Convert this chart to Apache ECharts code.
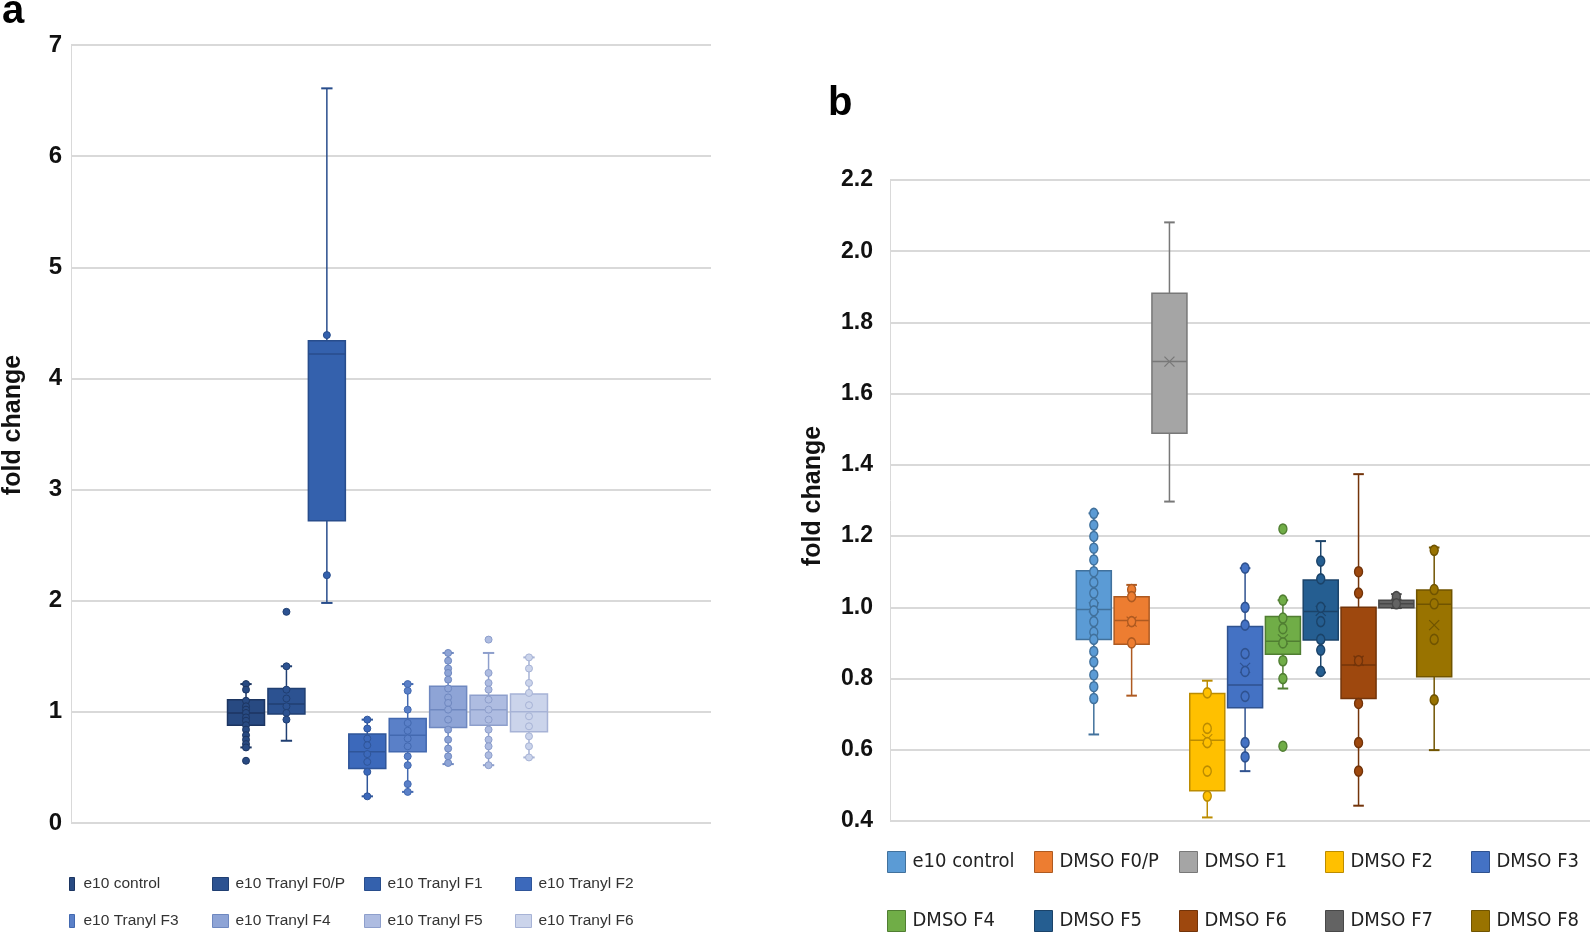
<!DOCTYPE html>
<html><head><meta charset="utf-8">
<script src="https://cdn.jsdelivr.net/npm/echarts@6/dist/echarts.min.js"></script>
<style>html,body{margin:0;padding:0;background:#fff}#c{width:1593px;height:946px}</style>
</head><body><div id="c"></div>
<script>
// ---------- Panel a data ----------
const groupsA = ['e10 control','e10 Tranyl F0/P','e10 Tranyl F1','e10 Tranyl F2','e10 Tranyl F3','e10 Tranyl F4','e10 Tranyl F5','e10 Tranyl F6'];
const minA = [0.68, 0.74, 1.98, 0.24, 0.28, 0.53, 0.52, 0.59];
const q1A  = [0.88, 0.98, 2.72, 0.49, 0.64, 0.86, 0.88, 0.82];
const medA = [0.99, 1.07, 4.22, 0.64, 0.79, 1.02, 1.02, 1.00];
const q3A  = [1.11, 1.21, 4.34, 0.80, 0.94, 1.23, 1.15, 1.16];
const maxA = [1.25, 1.41, 6.61, 0.93, 1.25, 1.53, 1.53, 1.49];
const pointsA = [
  [1.25,1.2,1.1,1.05,1.02,0.99,0.95,0.92,0.88,0.84,0.79,0.75,0.71,0.68,0.56],
  [1.9,1.41,1.2,1.12,1.05,0.99,0.93],
  [4.39,2.23],
  [0.93,0.85,0.76,0.7,0.62,0.55,0.46,0.24],
  [1.25,1.19,1.02,0.9,0.83,0.76,0.69,0.6,0.52,0.35,0.28],
  [1.53,1.46,1.39,1.35,1.29,1.21,1.13,1.08,1.02,0.93,0.84,0.75,0.67,0.6,0.54],
  [1.65,1.35,1.26,1.2,1.11,1.02,0.93,0.84,0.75,0.69,0.61,0.52],
  [1.49,1.39,1.26,1.17,1.06,0.96,0.87,0.78,0.69,0.59]
];
const yMinA = 0, yMaxA = 7, yStepA = 1;

// ---------- Panel b data ----------
const groupsB = ['e10 control','DMSO F0/P','DMSO F1','DMSO F2','DMSO F3','DMSO F4','DMSO F5','DMSO F6','DMSO F7','DMSO F8'];
const minB  = [0.643, 0.752, 1.297, 0.41, 0.54, 0.772, 0.817, 0.443, 0.998, 0.599];
const q1B   = [0.91, 0.896, 1.489, 0.485, 0.718, 0.868, 0.908, 0.744, 0.999, 0.805];
const medB  = [0.994, 0.963, 1.69, 0.627, 0.782, 0.905, 0.988, 0.838, 1.01, 1.009];
const q3B   = [1.103, 1.03, 1.882, 0.758, 0.946, 0.974, 1.077, 1.0, 1.02, 1.049];
const maxB  = [1.264, 1.063, 2.081, 0.794, 1.11, 1.02, 1.186, 1.374, 1.037, 1.168];
const meanB = [1.0, 0.96, 1.69, 0.63, 0.83, 0.91, 0.99, 0.85, 1.01, 0.95];
const pointsB = [
  [1.264,1.231,1.199,1.166,1.133,1.1,1.07,1.04,1.01,0.99,0.96,0.93,0.91,0.876,0.847,0.81,0.777,0.744],
  [1.05,1.03,0.96,0.9],
  [],
  [0.76,0.66,0.62,0.54,0.47],
  [1.11,1.0,0.95,0.87,0.82,0.75,0.62,0.58],
  [1.22,1.02,0.97,0.94,0.9,0.85,0.8,0.61],
  [1.13,1.08,1.0,0.96,0.91,0.88,0.82],
  [1.1,1.04,0.85,0.73,0.62,0.54],
  [1.03,1.01],
  [1.16,1.05,1.01,0.91,0.74]
];
const yMinB = 0.4, yMaxB = 2.2, yStepB = 0.2;

// ---------- styles ----------
const fillsA   = ['#284a82','#2c5291','#3461ad','#3c69bb','#5a80c8','#8ea4d6','#aebce1','#cbd4eb'];
const strokesA = ['#1c3561','#203f72','#284d8c','#2f5599','#4369b0','#6f88c0','#8e9fcc','#a7b3d6'];
const fillsB   = ['#5b9bd5','#ed7d31','#a5a5a5','#ffc000','#4472c4','#70ad47','#255e91','#9e480e','#636363','#997300'];
const strokesB = ['#41719c','#ae5a21','#787878','#bc8c00','#2f528f','#507e32','#1b4369','#73340a','#484848','#705400'];

const FONT = "'Liberation Sans', Arial, sans-serif";
const NARROW = "'Liberation Sans Narrow', 'DejaVu Sans Condensed', sans-serif";

function boxRenderer(fills, strokes, boxRatio, capRatio, showMean) {
  return function (params, api) {
    const i = api.value(0);
    const band = api.size([1, 0])[0];
    const bw = band * boxRatio, cw = band * capRatio;
    const x = api.coord([i, api.value(3)])[0];
    const y = k => api.coord([i, api.value(k)])[1];
    const yMin = y(1), yQ1 = y(2), yMed = y(3), yQ3 = y(4), yMax = y(5);
    const f = fills[i], s = strokes[i];
    const ch = [
      {type:'line', shape:{x1:x,y1:yMax,x2:x,y2:yMin}, style:{stroke:s,lineWidth:1.5}},
      {type:'line', shape:{x1:x-cw/2,y1:yMax,x2:x+cw/2,y2:yMax}, style:{stroke:s,lineWidth:2}},
      {type:'line', shape:{x1:x-cw/2,y1:yMin,x2:x+cw/2,y2:yMin}, style:{stroke:s,lineWidth:2}},
      {type:'rect', shape:{x:x-bw/2,y:yQ3,width:bw,height:yQ1-yQ3}, style:{fill:f,stroke:s,lineWidth:1.5}},
      {type:'line', shape:{x1:x-bw/2,y1:yMed,x2:x+bw/2,y2:yMed}, style:{stroke:s,lineWidth:1.5}}
    ];
    if (showMean) {
      const ym = y(6), m = 5;
      ch.push({type:'line', shape:{x1:x-m,y1:ym-m,x2:x+m,y2:ym+m}, style:{stroke:s,lineWidth:1.2}});
      ch.push({type:'line', shape:{x1:x-m,y1:ym+m,x2:x+m,y2:ym-m}, style:{stroke:s,lineWidth:1.2}});
    }
    return {type:'group', children:ch};
  };
}

function plotYAxis(grid, min, max, step, fontSize, margin, nameGap, shift, fmt) {
  return {
    gridIndex: grid, type:'value', min:min, max:max, interval:step,
    axisLine:{show:true, lineStyle:{color:'#d9d9d9', width:1}},
    axisTick:{show:false},
    splitLine:{show:true, lineStyle:{color:'#d9d9d9', width:2}},
    axisLabel:{fontSize:fontSize, fontWeight:'bold', fontFamily:FONT, color:'#111', margin:margin, formatter:fmt},
    name:'fold change', nameLocation:'middle', nameRotate:90, nameGap:nameGap,
    nameTextStyle:{fontSize:25, fontWeight:'bold', fontFamily:FONT, color:'#111', padding:[0,0,0,shift]}
  };
}

const series = [];
series.push({
  type:'custom', xAxisIndex:1, yAxisIndex:1, z:2, silent:true,
  renderItem: boxRenderer(fillsA, strokesA, 0.915, 0.28, false),
  encode:{x:0, y:[1,2,3,4,5]},
  data: groupsA.map((g,i)=>[i, minA[i], q1A[i], medA[i], q3A[i], maxA[i]])
});
groupsA.forEach((g,i)=>series.push({
  type:'scatter', name:g, xAxisIndex:1, yAxisIndex:1, z:5, silent:true,
  symbol:'circle', symbolSize:7,
  itemStyle:{color:fillsA[i], borderColor:strokesA[i], borderWidth:1, opacity:1},
  data: pointsA[i].map(v=>[i, v])
}));
series.push({
  type:'custom', xAxisIndex:3, yAxisIndex:3, z:2, silent:true,
  renderItem: boxRenderer(fillsB, strokesB, 0.926, 0.28, true),
  encode:{x:0, y:[1,2,3,4,5]},
  data: groupsB.map((g,i)=>[i, minB[i], q1B[i], medB[i], q3B[i], maxB[i], meanB[i]])
});
groupsB.forEach((g,i)=>series.push({
  type:'scatter', name:g, xAxisIndex:3, yAxisIndex:3, z:5, silent:true,
  symbol:'circle', symbolSize:[8,10],
  itemStyle:{color:fillsB[i], borderColor:strokesB[i], borderWidth:1.5, opacity:1},
  data: pointsB[i].map(v=>[i, v])
}));

// legends, one per item so they sit on Excel's column grid
const legends = [];
const colA = [69, 212, 364, 515], rowA = [876, 913];
groupsA.forEach((g,i)=>{
  const narrow = (i % 4 === 0);
  legends.push({
    data:[{name:g, icon:'rect', itemStyle:{color:fillsA[i], borderColor:strokesA[i], borderWidth:1}}],
    selectedMode:false, padding:0,
    left: colA[i%4], top: rowA[Math.floor(i/4)],
    itemWidth: narrow ? 5 : 16, itemHeight: 13,
    textStyle:{fontSize:15.5, fontFamily:FONT, color:'#333', padding:[0,0,0, narrow ? 4 : 2]}
  });
});
const colB = [887, 1034, 1179, 1325, 1471], rowB = [851, 910];
groupsB.forEach((g,i)=>{
  legends.push({
    data:[{name:g, icon:'rect', itemStyle:{color:fillsB[i], borderColor:strokesB[i], borderWidth:1}}],
    selectedMode:false, padding:0,
    left: colB[i%5], top: rowB[Math.floor(i/5)],
    itemWidth: 18, itemHeight: 21,
    textStyle:{fontSize:20, fontFamily:NARROW, color:'#222', padding:[0,0,0,2]}
  });
});

const option = {
  animation:false,
  backgroundColor:'#fff',
  grid:[
    {left:69, top:45, width:642, height:778},
    {left:225.8, top:45, width:323.4, height:778},
    {left:890, top:180, width:700, height:641},
    {left:1074.9, top:180, width:378.2, height:641}
  ],
  xAxis:[
    {gridIndex:0, type:'category', data:[''], show:false},
    {gridIndex:1, type:'category', data:groupsA, show:false},
    {gridIndex:2, type:'category', data:[''], show:false},
    {gridIndex:3, type:'category', data:groupsB, show:false}
  ],
  yAxis:[
    plotYAxis(0, yMinA, yMaxA, yStepA, 24, 9, 45, 18, v=>String(v)),
    {gridIndex:1, type:'value', min:yMinA, max:yMaxA, show:false},
    plotYAxis(2, yMinB, yMaxB, yStepB, 23, 17, 64, 9, v=>v.toFixed(1)),
    {gridIndex:3, type:'value', min:yMinB, max:yMaxB, show:false}
  ],
  legend: legends,
  graphic:[
    {type:'text', left:2, top:-8, style:{text:'a', font:"bold 40px 'Liberation Sans', Arial", fill:'#000'}},
    {type:'text', left:828, top:84, style:{text:'b', font:"bold 40px 'Liberation Sans', Arial", fill:'#000'}}
  ],
  series: series
};
const chart = echarts.init(document.getElementById('c'), null, {renderer:'canvas'});
chart.setOption(option);
</script></body></html>
